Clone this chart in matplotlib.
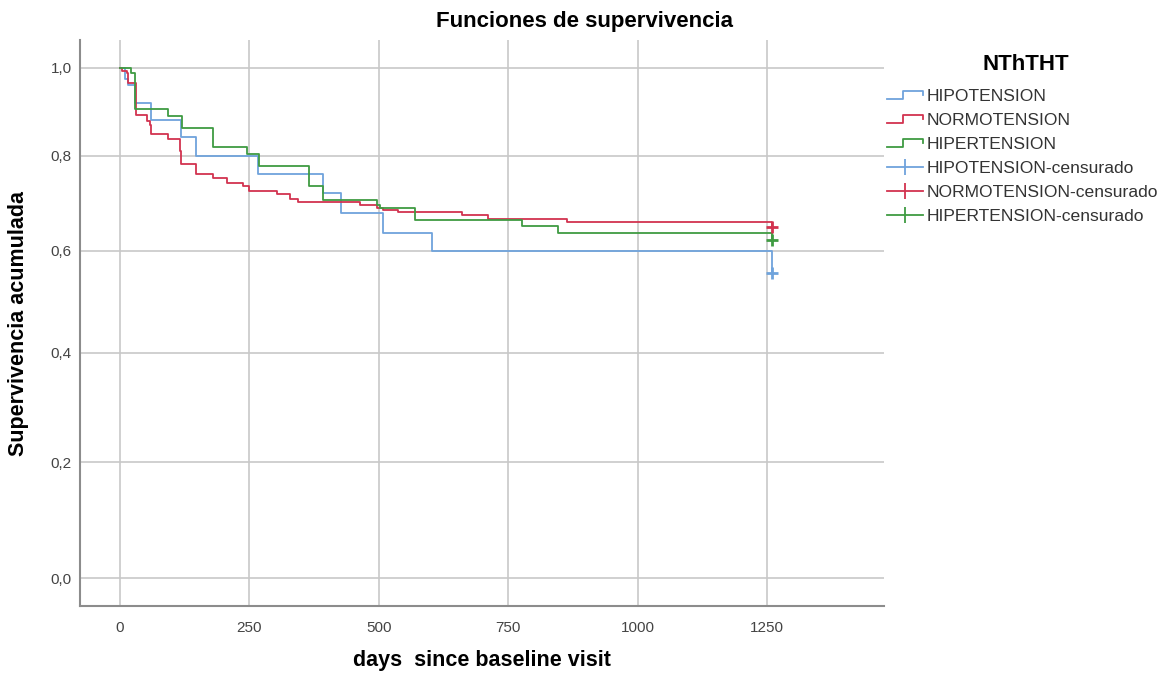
import numpy as np
import matplotlib
matplotlib.use("Agg")
import matplotlib.pyplot as plt
from matplotlib.lines import Line2D
from matplotlib.legend_handler import HandlerBase
from matplotlib.ticker import FuncFormatter

plt.rcParams['font.family'] = ['Liberation Sans', 'DejaVu Sans']

# Kaplan-Meier steps (days, cumulative survival)
hipo_t = [0, 10, 16, 29, 61, 119, 148, 267, 393, 428, 509, 602, 1260]
hipo_s = [1.0, 0.972, 0.96, 0.918, 0.88, 0.84, 0.80, 0.76, 0.72, 0.678, 0.637, 0.60, 0.555]

normo_t = [0, 5, 13, 16, 31, 52, 58, 61, 93, 116, 119, 148, 180, 206, 238, 250,
           303, 328, 344, 464, 497, 508, 537, 661, 711, 864, 1260]
normo_s = [1.0, 0.991, 0.9875, 0.964, 0.891, 0.876, 0.868, 0.847, 0.837, 0.811, 0.781, 0.76,
           0.752, 0.742, 0.734, 0.724, 0.717, 0.708, 0.70, 0.695, 0.688, 0.684, 0.68,
           0.673, 0.666, 0.66, 0.649]

hiper_t = [0, 22, 30, 93, 120, 180, 245, 268, 366, 392, 497, 502, 570, 777, 846, 1260]
hiper_s = [1.0, 0.988, 0.903, 0.888, 0.862, 0.818, 0.804, 0.777, 0.734, 0.705, 0.695,
           0.688, 0.663, 0.65, 0.637, 0.623]

groups = ['HIPOTENSION', 'NORMOTENSION', 'HIPERTENSION']
colors = ['#6FA3DC', '#D2334F', '#3F9B42']
xticks = [0, 250, 500, 750, 1000, 1250]
yticks = [0.0, 0.2, 0.4, 0.6, 0.8, 1.0]

# the screenshot's y axis is slightly stretched towards the bottom
A, B = 422.5, 87.5
def fwd(v):
    u = 1 - np.asarray(v, dtype=float)
    return -(A * u + B * u ** 2)
def inv(g):
    g = np.asarray(g, dtype=float)
    u = (-A + np.sqrt(np.clip(A ** 2 - 4 * B * g, 0, None))) / (2 * B)
    return 1 - u


class StepHandler(HandlerBase):
    def create_artists(self, legend, orig_handle, xdescent, ydescent, width, height, fontsize, trans):
        x0, y0 = -xdescent, -ydescent
        xs = [x0, x0 + 0.45 * width, x0 + 0.45 * width, x0 + width, x0 + width]
        ys = [y0 + 0.15 * height, y0 + 0.15 * height, y0 + 0.85 * height, y0 + 0.85 * height, y0 + 0.5 * height]
        ln = Line2D(xs, ys, color=orig_handle.get_color(), lw=orig_handle.get_linewidth())
        ln.set_transform(trans)
        return [ln]


fig = plt.figure(figsize=(11.68, 6.79), dpi=100)
ax = fig.add_axes([80 / 1168, 1 - 606 / 679, 804 / 1168, 566 / 679])
ax.set_yscale('function', functions=(fwd, inv))

for t, s, c in zip([hipo_t, normo_t, hiper_t], [hipo_s, normo_s, hiper_s], colors):
    ax.step(t, s, where='post', color=c, lw=1.3, zorder=3)
    ax.plot([t[-1]], [s[-1]], marker='+', color=c, ms=8, mew=2, zorder=4)

ax.set_xlim(-77, 1476)
ax.set_ylim(-0.046, 1.066)
ax.set_xticks(xticks)
ax.set_yticks(yticks)
ax.yaxis.set_major_formatter(FuncFormatter(lambda v, p: f"{v:.1f}".replace('.', ',')))
ax.grid(True, color='#C8C8C8', lw=1.2)
ax.set_axisbelow(True)
for side in ['top', 'right']:
    ax.spines[side].set_visible(False)
for side in ['left', 'bottom']:
    ax.spines[side].set_color('#8C8C8C')
    ax.spines[side].set_linewidth(1.5)
ax.tick_params(axis='both', length=0, labelsize=11, labelcolor='#444444')
ax.tick_params(axis='x', pad=11)
ax.tick_params(axis='y', pad=6)

ax.set_xlabel('days  since baseline visit', fontsize=15.5, fontweight='bold')
ax.xaxis.set_label_coords(0.5, -0.078)
ax.set_ylabel('Supervivencia acumulada', fontsize=15.5, fontweight='bold')
ax.yaxis.set_label_coords(-0.064, 0.5)

fig.text(585 / 1168, 1 - 21 / 679, 'Funciones de supervivencia', ha='center', va='center',
         fontsize=16, fontweight='bold')

# legend title drawn on its own so the gap to the entries matches
fig.text(1026 / 1168, 1 - 65 / 679, 'NThTHT', ha='center', va='center', fontsize=16, fontweight='bold')

step_h = [Line2D([], [], color=c, lw=1.3) for c in colors]
cens_h = [Line2D([], [], color=c, lw=1.3, marker='|', ms=12, mew=1.3) for c in colors]
labels = groups + [g + '-censurado' for g in groups]
leg = fig.legend(step_h + cens_h, labels, loc='upper left', bbox_to_anchor=(887 / 1168, 1 - 89 / 679),
                 frameon=False, fontsize=12.6, handlelength=2.05, handletextpad=0.2,
                 labelspacing=0.5, borderpad=0, borderaxespad=0, numpoints=1,
                 handler_map={h: StepHandler() for h in step_h})
for txt in leg.get_texts():
    txt.set_color('#333333')

fig.savefig('out.png', dpi=100)
